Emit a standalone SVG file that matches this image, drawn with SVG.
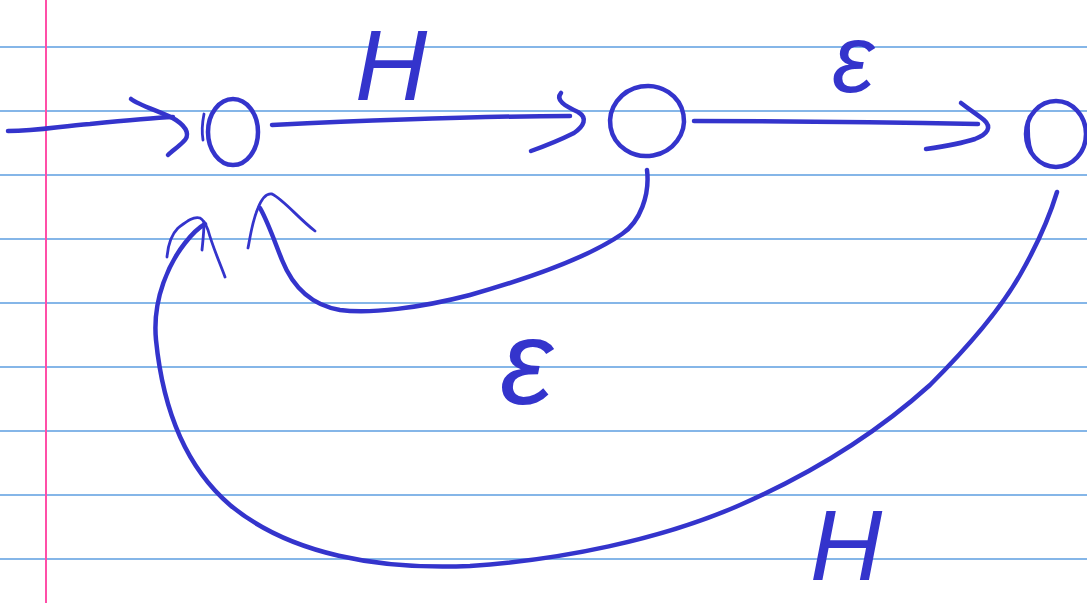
<svg xmlns="http://www.w3.org/2000/svg" width="1087" height="603" viewBox="0 0 1087 603">
<style>
.rule{stroke:#5c9ee0;stroke-width:1.5}
.ink{fill:none;stroke:#3434cc;stroke-width:4.5;stroke-linecap:round;stroke-linejoin:round}
.thin{stroke-width:2.8}
.lbl{fill:#3434cc;font-family:"Liberation Sans",sans-serif;font-style:italic}
</style>
<rect width="1087" height="603" fill="#ffffff"/>
<g id="paper">
<line class="rule" x1="0" y1="47" x2="1087" y2="47"/>
<line class="rule" x1="0" y1="111" x2="1087" y2="111"/>
<line class="rule" x1="0" y1="175" x2="1087" y2="175"/>
<line class="rule" x1="0" y1="239" x2="1087" y2="239"/>
<line class="rule" x1="0" y1="303" x2="1087" y2="303"/>
<line class="rule" x1="0" y1="367" x2="1087" y2="367"/>
<line class="rule" x1="0" y1="431" x2="1087" y2="431"/>
<line class="rule" x1="0" y1="495" x2="1087" y2="495"/>
<line class="rule" x1="0" y1="559" x2="1087" y2="559"/>
<line x1="46" y1="0" x2="46" y2="603" stroke="#ff4fa8" stroke-width="2"/>
</g>
<g id="connectors">
<path class="ink" d="M8,131 C40,131 60,126 90,124 C120,121 150,118 173,117"/>
<path class="ink" d="M131,99 C140,106 165,113 176,120 C188,128 190,136 183,142 C178,147 172,151 168,155"/>
<path class="ink" d="M272,125 C380,120 480,116 570,116"/>
<path class="ink" d="M561,93 C555,100 565,106 578,112 C588,118 584,126 574,133 C560,140 545,146 531,151"/>
<path class="ink" d="M694,121 C780,121 880,122 978,124"/>
<path class="ink" d="M961,103 C970,110 978,115 984,120 C992,127 988,134 975,139 C960,144 940,147 926,149"/>
<path class="ink" d="M647,170 C650,195 640,222 622,234 C590,256 530,278 470,295 C420,308 370,314 340,310 C305,304 290,280 282,260 C274,240 268,222 260,208"/>
<path class="ink thin" d="M248,248 C250,238 252,222 258,208 C262,198 266,193 272,194 C284,200 298,218 315,231"/>
<path class="ink" d="M1057,192 C1050,215 1040,240 1020,275 C1000,310 970,345 930,385 C880,430 820,470 740,505 C660,540 560,560 470,566 C380,570 290,555 230,505 C180,462 162,400 156,340 C152,298 170,262 185,243 C192,234 198,228 205,224"/>
<path class="ink thin" d="M167,257 C168,245 172,234 178,228 C186,222 193,216 200,218 C204,220 206,225 208,230 C213,248 220,263 225,277"/>
<path class="ink thin" d="M204,222 C204,232 203,240 202,250"/>
</g>
<g id="n1">
<ellipse class="ink" cx="233" cy="132" rx="25" ry="33"/>
<path class="ink thin" d="M204,114 C202,124 202,134 203,140"/>
</g>
<g id="n2">
<ellipse class="ink" cx="647" cy="121" rx="37" ry="35" transform="rotate(-10 647 121)"/>
</g>
<g id="n3">
<ellipse class="ink" cx="1056" cy="134" rx="30" ry="33"/>
<path class="ink thin" d="M1029,117 C1028,130 1029,145 1032,152"/>
</g>
<g id="labels">
<text class="lbl" x="355" y="100" font-size="100">H</text>
<text class="lbl" x="832" y="92" font-size="96">ε</text>
<text class="lbl" x="500" y="404" font-size="120">ε</text>
<text class="lbl" x="810" y="580" font-size="100">H</text>
</g>
</svg>
